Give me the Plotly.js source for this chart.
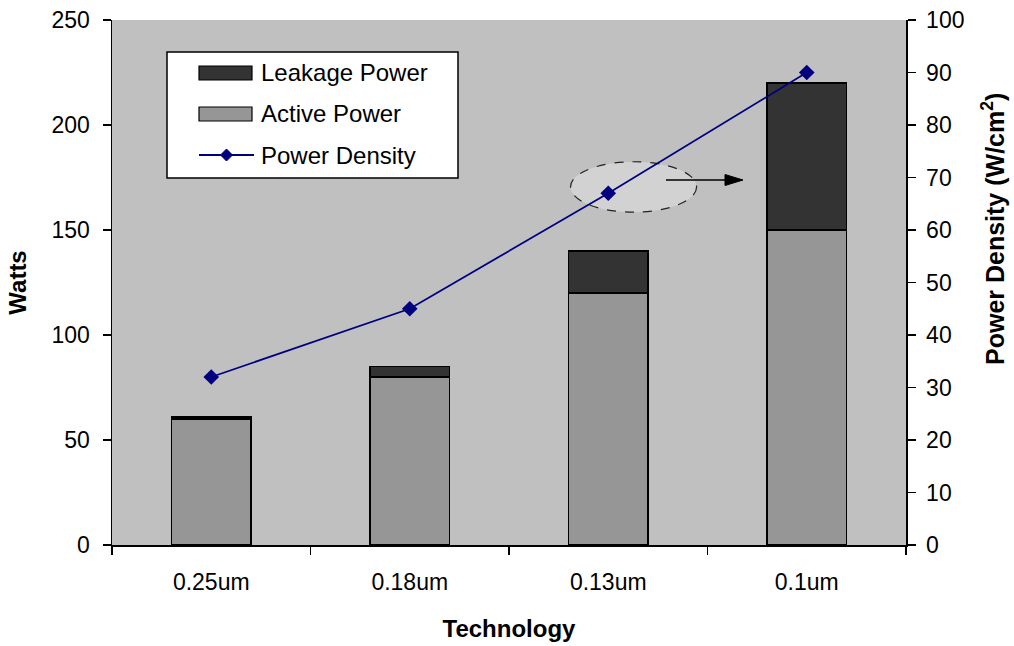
<!DOCTYPE html>
<html>
<head>
<meta charset="utf-8">
<script src="https://cdn.plot.ly/plotly-3.0.1.min.js"></script>
<style>
  html, body { margin: 0; padding: 0; background: #fff; }
  #chart { width: 1014px; height: 646px; }
</style>
</head>
<body>
<div id="chart"></div>
<script>
// Technology nodes and power figures
const technology = ['0.25um', '0.18um', '0.13um', '0.1um'];
const activePower = [60, 80, 120, 150];      // Watts
const leakagePower = [1, 5, 20, 70];         // Watts
const powerDensity = [32, 45, 67, 90];       // W/cm^2

const leftTicks = [0, 50, 100, 150, 200, 250];
const rightTicks = [0, 10, 20, 30, 40, 50, 60, 70, 80, 90, 100];

const FONT = 'Liberation Sans, Arial, sans-serif';
const NAVY = '#000080';

// plot-area geometry in pixels, used to place the hand-drawn legend, callout arrow and right title
const W = 1014, H = 646;
const M = { l: 112, r: 108, t: 20, b: 101 };
const pw = W - M.l - M.r, ph = H - M.t - M.b;
const px = x => (x - M.l) / pw;
const py = y => (H - M.b - y) / ph;

const traces = [
  {
    type: 'bar', name: 'Active Power', x: technology, y: activePower,
    marker: { color: '#969696', line: { color: '#000', width: 1.8 } },
    width: 0.4, showlegend: false, hoverinfo: 'x+y'
  },
  {
    type: 'bar', name: 'Leakage Power', x: technology, y: leakagePower,
    marker: { color: '#333333', line: { color: '#000', width: 1.8 } },
    width: 0.4, showlegend: false, hoverinfo: 'x+y'
  },
  {
    type: 'scatter', mode: 'lines+markers', name: 'Power Density',
    x: technology, y: powerDensity, yaxis: 'y2',
    line: { color: NAVY, width: 1.8 },
    marker: { symbol: 'diamond', size: 12, color: NAVY },
    showlegend: false
  }
];

// legend drawn as shapes + text
const legendShapes = [
  { type: 'rect', xref: 'paper', yref: 'paper', x0: px(167), x1: px(458), y0: py(178), y1: py(52),
    fillcolor: '#ffffff', line: { color: '#000', width: 1.5 }, layer: 'above' },
  { type: 'rect', xref: 'paper', yref: 'paper', x0: px(199), x1: px(252), y0: py(80), y1: py(66),
    fillcolor: '#333333', line: { color: '#000', width: 1.2 }, layer: 'above' },
  { type: 'rect', xref: 'paper', yref: 'paper', x0: px(199), x1: px(252), y0: py(121), y1: py(107),
    fillcolor: '#969696', line: { color: '#000', width: 1.2 }, layer: 'above' },
  { type: 'line', xref: 'paper', yref: 'paper', x0: px(199), x1: px(254), y0: py(155), y1: py(155),
    line: { color: NAVY, width: 1.8 }, layer: 'above' },
  { type: 'path', xref: 'paper', yref: 'paper', layer: 'above',
    path: `M ${px(226.5)} ${py(149)} L ${px(232.5)} ${py(155)} L ${px(226.5)} ${py(161)} L ${px(220.5)} ${py(155)} Z`,
    fillcolor: NAVY, line: { color: NAVY, width: 1 } }
];

const legendLabels = [
  ['Leakage Power', 73], ['Active Power', 114], ['Power Density', 155]
].map(([t, y]) => ({
  xref: 'paper', yref: 'paper', x: px(259), y: py(y), xanchor: 'left', yanchor: 'middle',
  text: t, showarrow: false, font: { family: FONT, size: 24, color: '#000' }
}));

// dashed callout ellipse around the 0.13um density point, with arrow toward the right axis
const calloutShapes = [
  { type: 'circle', xref: 'x', yref: 'y2', x0: 1.81, x1: 2.445, y0: 63.4, y1: 73.0,
    fillcolor: '#d2d2d2', line: { color: '#222', width: 1.2, dash: 'dash' }, layer: 'below' },
  { type: 'line', xref: 'paper', yref: 'paper', x0: px(666), x1: px(728), y0: py(180), y1: py(180),
    line: { color: '#000', width: 1.3 }, layer: 'above' },
  { type: 'path', xref: 'paper', yref: 'paper', layer: 'above',
    path: `M ${px(725)} ${py(174.5)} L ${px(743)} ${py(180)} L ${px(725)} ${py(185.5)} Z`,
    fillcolor: '#000', line: { color: '#000', width: 1 } }
];

const tickFont = { family: FONT, size: 23, color: '#000' };
const titleFont = { family: FONT, size: 24, color: '#000' };

// right-axis title, placed as a rotated annotation
const rightTitle = {
  xref: 'paper', yref: 'paper', x: px(993), y: py(229), xanchor: 'center', yanchor: 'middle',
  textangle: -90, showarrow: false,
  text: '<b>Power Density (W/cm<sup>2</sup>)</b>', font: { family: FONT, size: 25, color: '#000' }
};

const layout = {
  width: W, height: H,
  margin: M,
  paper_bgcolor: '#ffffff',
  plot_bgcolor: '#c0c0c0',
  barmode: 'stack',
  showlegend: false,
  font: { family: FONT, size: 23, color: '#000' },
  xaxis: {
    type: 'category',
    tickson: 'boundaries', ticks: 'outside', ticklen: 8, tickwidth: 1.5, tickcolor: '#000',
    showline: true, linecolor: '#000', linewidth: 1.5, showgrid: false, zeroline: false,
    tickfont: tickFont, ticklabelstandoff: 16,
    title: { text: '<b>Technology</b>', font: titleFont, standoff: 26 },
    automargin: false
  },
  yaxis: {
    range: [0, 250], tickvals: leftTicks, ticks: 'outside', ticklen: 8, tickwidth: 1.5, tickcolor: '#000',
    showline: true, linecolor: '#000', linewidth: 1.5, showgrid: false, zeroline: false,
    tickfont: tickFont, ticklabelstandoff: 8,
    title: { text: '<b>Watts</b>', font: titleFont, standoff: 18 },
    automargin: false
  },
  yaxis2: {
    overlaying: 'y', side: 'right',
    range: [0, 100], tickvals: rightTicks, ticks: 'outside', ticklen: 8, tickwidth: 1.5, tickcolor: '#000',
    showline: true, linecolor: '#000', linewidth: 1.5, showgrid: false, zeroline: false,
    tickfont: tickFont, ticklabelstandoff: 6,
    automargin: false
  },
  shapes: calloutShapes.concat(legendShapes),
  annotations: legendLabels.concat([rightTitle])
};

Plotly.newPlot('chart', traces, layout, { displayModeBar: false, staticPlot: true });
</script>
</body>
</html>
